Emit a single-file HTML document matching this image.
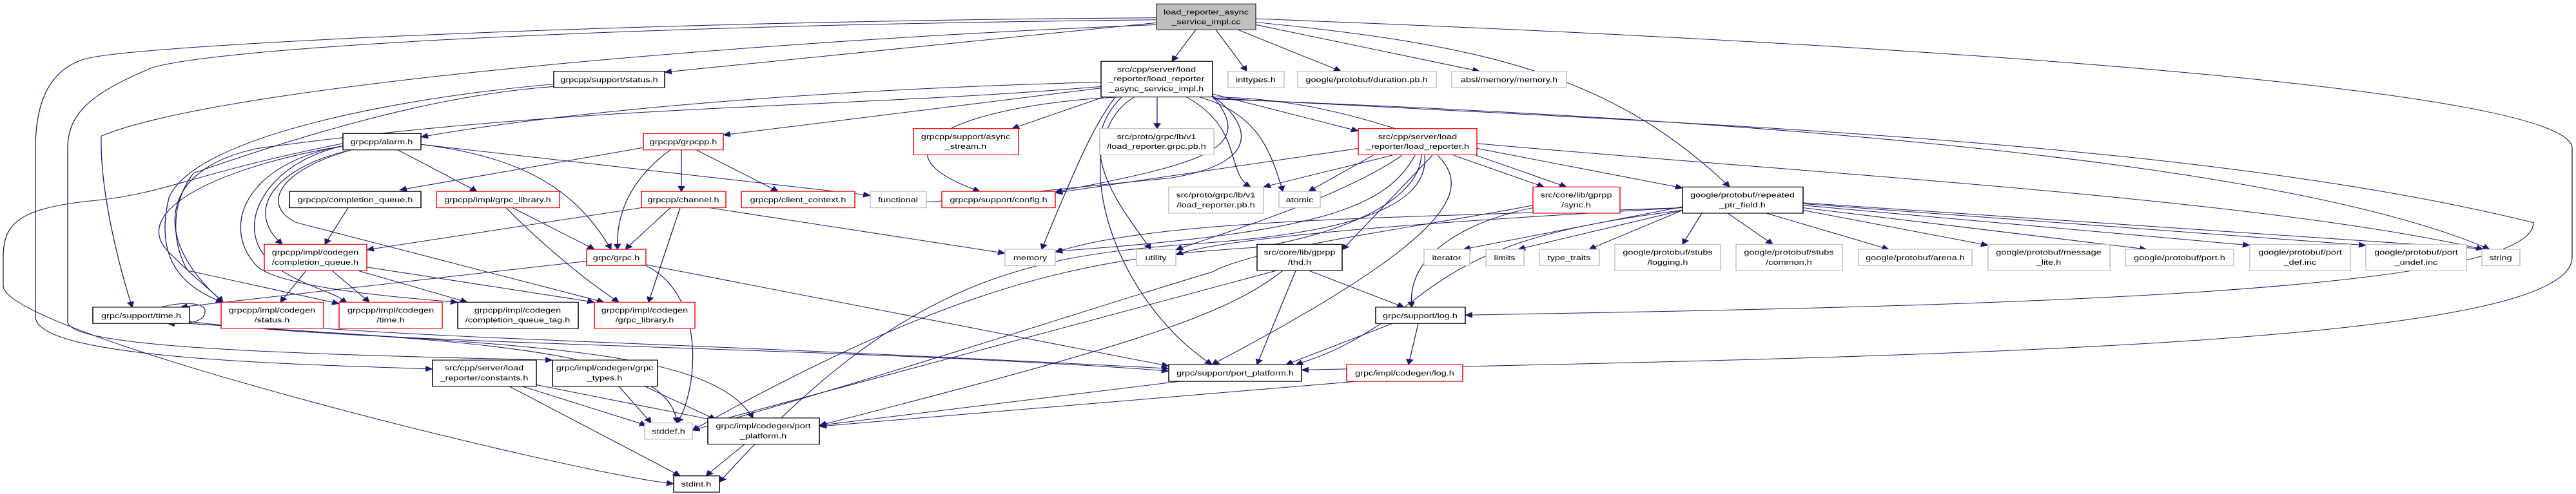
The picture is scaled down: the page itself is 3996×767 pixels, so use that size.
<!DOCTYPE html>
<html><head><meta charset="utf-8"><style>
html,body{margin:0;padding:0;background:#fff;overflow:hidden;}
svg{display:block;}
text{font-family:"Liberation Sans",sans-serif;font-size:14.5px;fill:#000;text-anchor:middle;}
.e{fill:none;stroke:#191970;stroke-width:1.3;}
.b{fill:#fff;stroke:#000;stroke-width:1.5;}
.r{fill:#fff;stroke:#ff0000;stroke-width:1.5;}
.g{fill:#fff;stroke:#bfbfbf;stroke-width:1.5;}
</style></head><body>
<svg width="3996" height="767" viewBox="0 0 3996 767" xmlns="http://www.w3.org/2000/svg">
<defs><marker id="a" markerWidth="12" markerHeight="12" refX="11" refY="6" orient="auto" markerUnits="userSpaceOnUse"><path d="M0,0 L12,6 L0,12 z" fill="#191970"/></marker></defs>
<g transform="scale(1,0.768)">
<g class="e" marker-end="url(#a)">
<path d="M1794,46 L1031,146"/>
<path d="M1855,60 L1818,124"/>
<path d="M1886,60 L1934,144"/>
<path d="M1920,60 L2080,144"/>
<path d="M1948,50 L2295,144"/>
<path d="M1948,45 C2300,90 2500,150 2683,378"/>
<path d="M1948,38 C3000,90 3990,180 3990,300 L3990,520 C3990,700 3000,720 2019,748"/>
<path d="M1794,36 C1000,42 200,90 130,120 C80,140 55,200 55,300 L55,640 C55,720 400,735 671,746"/>
<path d="M1794,40 C900,52 300,100 230,140 C140,190 105,230 105,300 L105,650 C105,700 400,715 857,728"/>
<path d="M1794,50 C1200,80 350,170 157,275 C155,400 190,560 205,621"/>
<path d="M1708,166 C1300,180 900,220 653,277"/>
<path d="M1708,178 L1122,273"/>
<path d="M1712,196 L1570,260"/>
<path d="M1795,196 L1795,260"/>
<path d="M1740,196 C1500,210 1330,300 1520,387"/>
<path d="M1730,196 C1700,250 1680,300 1616,504"/>
<path d="M1740,196 C1660,300 1740,420 1785,504"/>
<path d="M1760,196 C1650,280 1720,600 1880,737"/>
<path d="M1840,196 C1930,260 1900,350 1940,378"/>
<path d="M1860,196 C1950,230 1970,300 1990,387"/>
<path d="M1881,190 L2107,265"/>
<path d="M1881,196 C2050,200 2150,250 2430,378"/>
<path d="M1881,200 C2500,230 3500,300 3862,504"/>
<path d="M1881,198 C2600,250 3400,280 3930,450 C3930,600 3000,620 2273,637"/>
<path d="M1708,175 C1300,220 900,210 400,300 C250,340 230,480 346,611"/>
<path d="M1881,194 C1940,250 1960,330 1815,360 C1500,400 1400,420 1437,400"/>
<path d="M1881,194 C1950,300 1870,330 1637,388"/>
<path d="M859,170 C600,200 300,280 262,400 C240,520 280,580 346,611"/>
<path d="M859,175 C700,190 520,250 300,350 C260,420 270,500 291,547 L526,614"/>
<path d="M545,303 C420,340 380,430 438,494"/>
<path d="M617,303 L740,387"/>
<path d="M653,292 C830,320 900,400 948,504"/>
<path d="M653,292 L1350,395"/>
<path d="M532,295 C330,340 200,430 262,510 C300,560 330,590 346,611"/>
<path d="M532,295 C410,330 360,460 420,530 C460,580 550,600 526,611"/>
<path d="M532,295 C380,330 340,460 400,540 C440,580 600,600 710,611"/>
<path d="M545,303 C420,350 410,420 460,450 L937,611"/>
<path d="M532,290 C300,350 260,390 150,405 C30,420 5,450 5,520 L5,580 C20,680 900,960 1045,978"/>
<path d="M1000,298 L620,384"/>
<path d="M1040,303 C980,360 955,430 958,504"/>
<path d="M1057,303 L1057,387"/>
<path d="M1080,303 L1207,387"/>
<path d="M540,420 L504,494"/>
<path d="M795,420 L922,504"/>
<path d="M785,420 C830,480 900,560 960,611"/>
<path d="M995,420 L569,505"/>
<path d="M1040,420 L970,504"/>
<path d="M1055,420 L1006,611"/>
<path d="M1100,420 L1559,512"/>
<path d="M475,547 L435,611"/>
<path d="M515,547 L573,611"/>
<path d="M555,547 L725,611"/>
<path d="M569,540 L922,611"/>
<path d="M910,528 L280,621"/>
<path d="M1002,535 L1813,740"/>
<path d="M1002,537 C1100,600 1080,800 1050,855"/>
<path d="M250,621 C280,610 320,610 318,630 C318,655 280,655 260,654"/>
<path d="M294,650 C600,700 1300,700 1813,750"/>
<path d="M294,654 C700,690 1040,700 1050,855"/>
<path d="M294,654 C800,700 1100,700 1168,845"/>
<path d="M502,664 C800,690 1000,690 1813,745"/>
<path d="M810,781 L1003,860"/>
<path d="M790,781 L1055,962"/>
<path d="M832,778 L1110,850"/>
<path d="M960,781 L1010,855"/>
<path d="M1000,781 L1110,848"/>
<path d="M1830,771 L1271,860"/>
<path d="M1155,898 L1095,962"/>
<path d="M2107,300 L1637,390"/>
<path d="M2130,314 L2030,387"/>
<path d="M2160,314 L1960,378"/>
<path d="M2175,314 C2080,400 1900,470 1824,505"/>
<path d="M2195,314 C2150,420 2050,470 1637,508"/>
<path d="M2205,314 C2200,420 2050,480 1950,500 C1700,520 1500,560 1074,870"/>
<path d="M2210,314 C2220,450 2000,480 1830,495 C1600,520 1400,560 1116,975"/>
<path d="M2230,314 C2280,380 2270,470 1880,737"/>
<path d="M2222,314 L2082,505"/>
<path d="M2255,314 L2395,378"/>
<path d="M2291,300 L2610,380"/>
<path d="M2291,290 C2800,350 3500,400 3852,504"/>
<path d="M2378,420 C2300,440 2180,500 2190,621"/>
<path d="M2378,415 C2200,460 1950,500 1880,550 C1700,620 1400,750 1074,870"/>
<path d="M2030,547 L2178,621"/>
<path d="M2010,547 L1950,737"/>
<path d="M1990,547 C1900,640 1750,700 1271,860"/>
<path d="M1980,547 L1100,855"/>
<path d="M2610,418 L2270,504"/>
<path d="M2610,425 L2355,504"/>
<path d="M2610,425 L2465,504"/>
<path d="M2640,431 L2610,494"/>
<path d="M2680,431 L2750,494"/>
<path d="M2740,431 L2930,504"/>
<path d="M2797,425 L3084,496"/>
<path d="M2797,420 L3330,504"/>
<path d="M2797,415 L3490,496"/>
<path d="M2797,412 L3670,496"/>
<path d="M2797,410 L3862,504"/>
<path d="M2610,420 C2200,440 1800,440 1637,510"/>
<path d="M2610,420 C2200,450 1900,480 1824,515"/>
<path d="M2610,425 C2400,460 2300,500 2200,600 C2100,700 2050,720 2010,737"/>
<path d="M2160,654 L1995,737"/>
<path d="M2200,654 L2185,737"/>
<path d="M2105,771 L1271,862"/>
</g>
<g>
<rect x="1794" y="8" width="154" height="52" fill="#bfbfbf" stroke="#404040" stroke-width="1.5"/><text x="1871" y="29">load_reporter_async</text><text x="1871" y="49">_service_impl.cc</text>
<rect class="b" x="859" y="144" width="172" height="33"/><text x="945" y="166">grpcpp/support/status.h</text>
<rect class="b" x="1708" y="124" width="173" height="72"/><text x="1794" y="145">src/cpp/server/load</text><text x="1794" y="164">_reporter/load_reporter</text><text x="1794" y="184">_async_service_impl.h</text>
<rect class="g" x="1905" y="144" width="87" height="33"/><text x="1948" y="166">inttypes.h</text>
<rect class="g" x="2013" y="144" width="215" height="33"/><text x="2120" y="166">google/protobuf/duration.pb.h</text>
<rect class="g" x="2252" y="144" width="178" height="33"/><text x="2341" y="166">absl/memory/memory.h</text>
<rect class="b" x="532" y="270" width="121" height="33"/><text x="592" y="292">grpcpp/alarm.h</text>
<rect class="r" x="998" y="270" width="124" height="33"/><text x="1060" y="292">grpcpp/grpcpp.h</text>
<rect class="r" x="1417" y="260" width="163" height="53"/><text x="1498" y="281">grpcpp/support/async</text><text x="1498" y="301">_stream.h</text>
<rect class="g" x="1706" y="260" width="177" height="53"/><text x="1794" y="281">src/proto/grpc/lb/v1</text><text x="1794" y="301">/load_reporter.grpc.pb.h</text>
<rect class="r" x="2107" y="260" width="184" height="53"/><text x="2199" y="281">src/cpp/server/load</text><text x="2199" y="301">_reporter/load_reporter.h</text>
<rect class="b" x="449" y="387" width="204" height="33"/><text x="551" y="409">grpcpp/completion_queue.h</text>
<rect class="r" x="677" y="387" width="191" height="33"/><text x="772" y="409">grpcpp/impl/grpc_library.h</text>
<rect class="r" x="995" y="387" width="131" height="33"/><text x="1060" y="409">grpcpp/channel.h</text>
<rect class="r" x="1150" y="387" width="176" height="33"/><text x="1238" y="409">grpcpp/client_context.h</text>
<rect class="g" x="1350" y="387" width="87" height="33"/><text x="1393" y="409">functional</text>
<rect class="r" x="1461" y="387" width="176" height="33"/><text x="1549" y="409">grpcpp/support/config.h</text>
<rect class="g" x="1813" y="378" width="147" height="53"/><text x="1886" y="399">src/proto/grpc/lb/v1</text><text x="1886" y="419">/load_reporter.pb.h</text>
<rect class="g" x="1984" y="387" width="64" height="33"/><text x="2016" y="409">atomic</text>
<rect class="r" x="2378" y="378" width="135" height="53"/><text x="2445" y="399">src/core/lib/gprpp</text><text x="2445" y="419">/sync.h</text>
<rect class="b" x="2610" y="378" width="187" height="53"/><text x="2703" y="399">google/protobuf/repeated</text><text x="2703" y="419">_ptr_field.h</text>
<rect class="r" x="410" y="494" width="159" height="53"/><text x="489" y="515">grpcpp/impl/codegen</text><text x="489" y="535">/completion_queue.h</text>
<rect class="r" x="910" y="504" width="92" height="33"/><text x="956" y="526">grpc/grpc.h</text>
<rect class="g" x="1559" y="504" width="78" height="33"/><text x="1598" y="526">memory</text>
<rect class="g" x="1763" y="504" width="61" height="33"/><text x="1793" y="526">utility</text>
<rect class="b" x="1950" y="494" width="132" height="53"/><text x="2016" y="515">src/core/lib/gprpp</text><text x="2016" y="535">/thd.h</text>
<rect class="g" x="2209" y="504" width="71" height="33"/><text x="2244" y="526">iterator</text>
<rect class="g" x="2305" y="504" width="59" height="33"/><text x="2334" y="526">limits</text>
<rect class="g" x="2388" y="504" width="93" height="33"/><text x="2434" y="526">type_traits</text>
<rect class="g" x="2505" y="494" width="164" height="53"/><text x="2587" y="515">google/protobuf/stubs</text><text x="2587" y="535">/logging.h</text>
<rect class="g" x="2693" y="494" width="165" height="53"/><text x="2775" y="515">google/protobuf/stubs</text><text x="2775" y="535">/common.h</text>
<rect class="g" x="2883" y="504" width="176" height="33"/><text x="2971" y="526">google/protobuf/arena.h</text>
<rect class="g" x="3084" y="494" width="189" height="53"/><text x="3178" y="515">google/protobuf/message</text><text x="3178" y="535">_lite.h</text>
<rect class="g" x="3297" y="504" width="168" height="33"/><text x="3381" y="526">google/protobuf/port.h</text>
<rect class="g" x="3490" y="494" width="156" height="53"/><text x="3568" y="515">google/protobuf/port</text><text x="3568" y="535">_def.inc</text>
<rect class="g" x="3670" y="494" width="156" height="53"/><text x="3748" y="515">google/protobuf/port</text><text x="3748" y="535">_undef.inc</text>
<rect class="g" x="3850" y="504" width="59" height="33"/><text x="3879" y="526">string</text>
<rect class="b" x="144" y="621" width="150" height="33"/><text x="219" y="643">grpc/support/time.h</text>
<rect class="r" x="343" y="611" width="159" height="53"/><text x="422" y="632">grpcpp/impl/codegen</text><text x="422" y="652">/status.h</text>
<rect class="r" x="526" y="611" width="160" height="53"/><text x="606" y="632">grpcpp/impl/codegen</text><text x="606" y="652">/time.h</text>
<rect class="b" x="710" y="611" width="187" height="53"/><text x="803" y="632">grpcpp/impl/codegen</text><text x="803" y="652">/completion_queue_tag.h</text>
<rect class="r" x="922" y="611" width="156" height="53"/><text x="1000" y="632">grpcpp/impl/codegen</text><text x="1000" y="652">/grpc_library.h</text>
<rect class="b" x="2134" y="621" width="139" height="33"/><text x="2203" y="643">grpc/support/log.h</text>
<rect class="b" x="671" y="728" width="161" height="53"/><text x="751" y="749">src/cpp/server/load</text><text x="751" y="769">_reporter/constants.h</text>
<rect class="b" x="857" y="728" width="163" height="53"/><text x="938" y="749">grpc/impl/codegen/grpc</text><text x="938" y="769">_types.h</text>
<rect class="b" x="1813" y="737" width="206" height="34"/><text x="1916" y="759">grpc/support/port_platform.h</text>
<rect class="r" x="2089" y="737" width="180" height="34"/><text x="2179" y="759">grpc/impl/codegen/log.h</text>
<rect class="g" x="1000" y="855" width="74" height="33"/><text x="1037" y="877">stddef.h</text>
<rect class="b" x="1098" y="845" width="173" height="53"/><text x="1184" y="866">grpc/impl/codegen/port</text><text x="1184" y="886">_platform.h</text>
<rect class="b" x="1045" y="962" width="71" height="33"/><text x="1080" y="984">stdint.h</text>
</g>
</g>
</svg>
</body></html>
